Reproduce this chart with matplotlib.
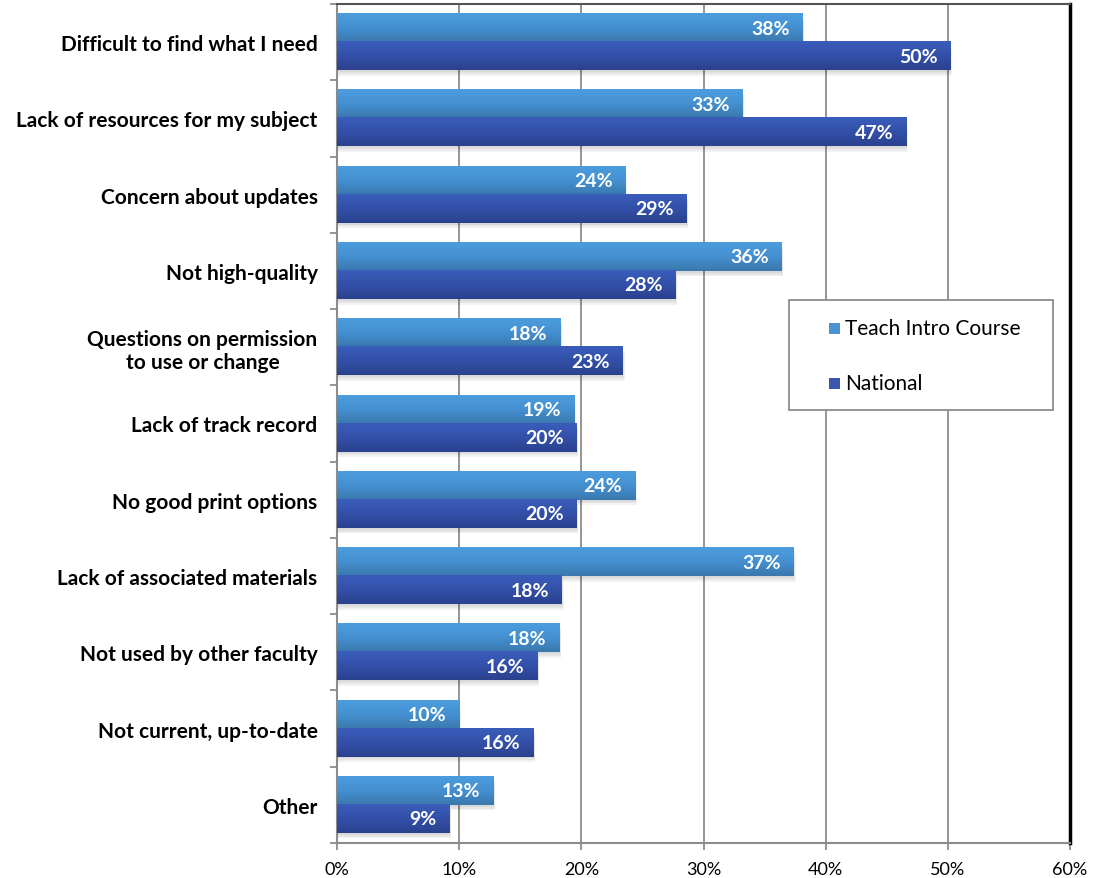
import numpy as np
import matplotlib
matplotlib.use("Agg")
import matplotlib.pyplot as plt
from matplotlib.colors import LinearSegmentedColormap
from matplotlib.patches import Rectangle

categories = [
    "Difficult to find what I need",
    "Lack of resources for my subject",
    "Concern about updates",
    "Not high-quality",
    "Questions on permission\nto use or change",
    "Lack of track record",
    "No good print options",
    "Lack of associated materials",
    "Not used by other faculty",
    "Not current, up-to-date",
    "Other",
]
teach_intro = [38.1, 33.2, 23.6, 36.4, 18.3, 19.4, 24.4, 37.4, 18.2, 10.0, 12.8]
national = [50.2, 46.6, 28.6, 27.7, 23.4, 19.6, 19.6, 18.4, 16.4, 16.1, 9.2]
series_names = ["Teach Intro Course", "National"]
series_colors = ["#4a93d3", "#3a56b0"]
x_ticks = [0, 10, 20, 30, 40, 50, 60]

plt.rcParams['font.family'] = ['Lato', 'DejaVu Sans']

light_cmap = LinearSegmentedColormap.from_list("light", ["#4c9ddf", "#4590d0", "#3a78ad"])
dark_cmap = LinearSegmentedColormap.from_list("dark", ["#3a5dbb", "#3350a8", "#2a418e"])

W, H = 1099, 879
fig = plt.figure(figsize=(W / 100, H / 100), dpi=100)
ax = fig.add_axes([337 / W, 1 - 844 / H, (1070 - 337) / W, (844 - 5) / H])

bar_h = 0.368
grad = np.linspace(0, 1, 64).reshape(-1, 1)


def gradient_bar(y_top, value, cmap, label):
    # soft drop shadow under the bar
    for k in range(3):
        off = 0.012 * (k + 1)
        ax.add_patch(Rectangle((0, y_top + off * 2), value + off * 4, bar_h,
                               color="black", alpha=0.05, lw=0, zorder=2))
    ax.imshow(grad, extent=[0, value, y_top + bar_h, y_top], aspect="auto",
              cmap=cmap, interpolation="bicubic", zorder=3)
    ax.text(value - 1.05, y_top + bar_h / 2, label, ha="right", va="center",
            color="white", fontsize=14, fontweight="bold", zorder=4)


for i in range(len(categories)):
    gradient_bar(i - bar_h, teach_intro[i], light_cmap, f"{teach_intro[i]:.0f}%")
    gradient_bar(i, national[i], dark_cmap, f"{national[i]:.0f}%")

ax.set_xlim(0, 60)
ax.set_ylim(len(categories) - 0.5, -0.5)

ax.set_xticks(x_ticks)
ax.set_xticklabels([f"{t}%" for t in x_ticks], fontsize=13)
ax.xaxis.grid(True, color="#8c8c8c", lw=1.3, zorder=1)
ax.set_axisbelow(True)

# category boundaries get the tick marks, names sit in between
ax.set_yticks(np.arange(-0.5, len(categories) + 0.5, 1))
ax.set_yticklabels([])
ax.set_yticks(np.arange(len(categories)), minor=True)
ax.set_yticklabels(categories, minor=True, fontsize=15, fontweight="bold",
                   ha="right", multialignment="center", linespacing=1.2)
ax.tick_params(axis="y", which="minor", length=0, pad=14)
ax.tick_params(axis="both", which="major", length=5, color="#8c8c8c", width=1.3)
ax.tick_params(axis="x", which="major", pad=8)

for side in ["left", "bottom"]:
    ax.spines[side].set_color("#8c8c8c")
    ax.spines[side].set_linewidth(1.5)
ax.spines["top"].set_color("#555555")
ax.spines["top"].set_linewidth(1.5)
ax.spines["right"].set_color("black")
ax.spines["right"].set_linewidth(2.5)


def px(x, y):
    return x / W, 1 - y / H


# legend box drawn in figure pixels
lx, ly, lw_, lh = 789, 301, 264, 110
fig.add_artist(Rectangle(px(lx, ly + lh), lw_ / W, lh / H, transform=fig.transFigure,
                         facecolor="white", edgecolor="#8c8c8c", lw=1.3, zorder=5))
for k, (name, col) in enumerate(zip(series_names, series_colors)):
    cy = 329 + 55 * k
    fig.add_artist(Rectangle(px(829, cy + 5.5), 11 / W, 11 / H, transform=fig.transFigure,
                             facecolor=col, edgecolor="none", zorder=6))
    fig.text(*px(845, cy), name, fontsize=15, ha="left", va="center", zorder=6)

fig.savefig("out.png", dpi=100)
